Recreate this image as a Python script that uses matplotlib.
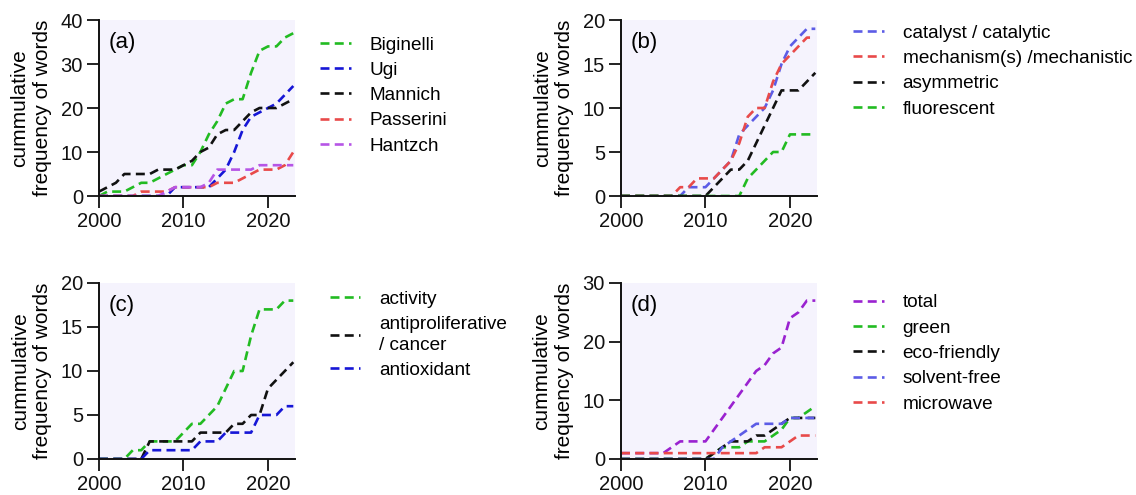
import numpy as np
import matplotlib
matplotlib.use('Agg')
import matplotlib.pyplot as plt

plt.rcParams['font.family'] = ['Liberation Sans', 'DejaVu Sans']

years = list(range(2000, 2024))

# (a) name reactions
biginelli = [0, 1, 1, 1, 2, 3, 3, 4, 5, 6, 7, 7, 10, 14, 17, 21, 22, 22, 28, 33, 34, 34, 36, 37]
ugi = [0, 0, 0, 0, 0, 0, 0, 0, 0, 2, 2, 2, 2, 2, 4, 6, 10, 15, 18, 19, 20, 21, 23, 25]
mannich = [1, 2, 3, 5, 5, 5, 5, 6, 6, 6, 7, 8, 10, 11, 14, 15, 15, 17, 19, 20, 20, 20, 21, 22]
passerini = [0, 0, 0, 0, 0, 1, 1, 1, 1, 2, 2, 2, 2, 2, 3, 3, 3, 4, 5, 6, 6, 6, 7, 10]
hantzch = [0, 0, 0, 0, 0, 0, 0, 0, 1, 2, 2, 2, 2, 3, 6, 6, 6, 6, 6, 7, 7, 7, 7, 7]

# (b)
catalyst = [0, 0, 0, 0, 0, 0, 0, 0, 1, 1, 1, 2, 3, 4, 7, 8, 9, 10, 12, 15, 17, 18, 19, 19]
mechanism = [0, 0, 0, 0, 0, 0, 0, 1, 1, 2, 2, 2, 3, 4, 6, 9, 10, 10, 13, 15, 16, 17, 18, 18]
asymmetric = [0, 0, 0, 0, 0, 0, 0, 0, 0, 0, 0, 1, 2, 3, 3, 4, 6, 8, 10, 12, 12, 12, 13, 14]
fluorescent = [0, 0, 0, 0, 0, 0, 0, 0, 0, 0, 0, 0, 0, 0, 0, 2, 3, 4, 5, 5, 7, 7, 7, 7]

# (c)
activity = [0, 0, 0, 0, 1, 1, 2, 2, 2, 2, 3, 4, 4, 5, 6, 8, 10, 10, 14, 17, 17, 17, 18, 18]
antiprolif = [0, 0, 0, 0, 0, 0, 2, 2, 2, 2, 2, 2, 3, 3, 3, 3, 4, 4, 5, 5, 8, 9, 10, 11]
antioxidant = [0, 0, 0, 0, 0, 0, 1, 1, 1, 1, 1, 1, 2, 2, 2, 3, 3, 3, 3, 5, 5, 5, 6, 6]

# (d)
total = [1, 1, 1, 1, 1, 1, 2, 3, 3, 3, 3, 5, 7, 9, 11, 13, 15, 16, 18, 19, 24, 25, 27, 27]
green = [0, 0, 0, 0, 0, 0, 0, 0, 0, 0, 0, 1, 2, 2, 2, 3, 3, 3, 4, 5, 7, 7, 8, 9]
eco = [0, 0, 0, 0, 0, 0, 0, 0, 0, 0, 0, 1, 2, 3, 3, 3, 4, 4, 5, 6, 7, 7, 7, 7]
solvent_free = [0, 0, 0, 0, 0, 0, 0, 0, 0, 0, 0, 0, 2, 3, 4, 5, 6, 6, 6, 6, 7, 7, 7, 7]
microwave = [1, 1, 1, 1, 1, 1, 1, 1, 1, 1, 1, 1, 1, 1, 1, 1, 1, 2, 2, 2, 3, 4, 4, 4]

GREEN = '#22bb22'
BLUE = '#1616d6'
LBLUE = '#5c5ce6'
RED = '#e84a4a'
PURPLE = '#b655e6'
DPURPLE = '#9a22d0'
BLACK = '#111111'

panels = [
    dict(rect=[99, 20], label='(a)', ylim=40, yticks=[0, 10, 20, 30, 40],
         series=[(biginelli, GREEN, 'Biginelli'), (ugi, BLUE, 'Ugi'),
                 (mannich, BLACK, 'Mannich'), (passerini, RED, 'Passerini'),
                 (hantzch, PURPLE, 'Hantzch')],
         leg=(1.128, 0.908)),
    dict(rect=[621, 20], label='(b)', ylim=20, yticks=[0, 5, 10, 15, 20],
         series=[(catalyst, LBLUE, 'catalyst / catalytic'),
                 (mechanism, RED, 'mechanism(s) /mechanistic'),
                 (asymmetric, BLACK, 'asymmetric'), (fluorescent, GREEN, 'fluorescent')],
         leg=(1.185, 0.975)),
    dict(rect=[99, 283], label='(c)', ylim=20, yticks=[0, 5, 10, 15, 20],
         series=[(activity, GREEN, 'activity'),
                 (antiprolif, BLACK, 'antiproliferative\n/ cancer'),
                 (antioxidant, BLUE, 'antioxidant')],
         leg=(1.178, 0.957)),
    dict(rect=[621, 283], label='(d)', ylim=30, yticks=[0, 10, 20, 30],
         series=[(total, DPURPLE, 'total'), (green, GREEN, 'green'),
                 (eco, BLACK, 'eco-friendly'), (solvent_free, LBLUE, 'solvent-free'),
                 (microwave, RED, 'microwave')],
         leg=(1.185, 0.937)),
]

W, H = 1136, 495
fig = plt.figure(figsize=(W / 100, H / 100), dpi=100)

for p in panels:
    x0, y0 = p['rect']
    ax = fig.add_axes([x0 / W, 1 - (y0 + 176) / H, 196 / W, 176 / H])
    ax.set_facecolor('#f5f3fd')
    for vals, col, lab in p['series']:
        ax.plot(years, vals, color=col, lw=1.9, dashes=(3.4, 2.0), label=lab)
    ax.set_xlim(2000, 2023.2)
    ax.set_ylim(0, p['ylim'])
    ax.set_xticks([2000, 2010, 2020])
    ax.set_yticks(p['yticks'])
    for s in ['top', 'right']:
        ax.spines[s].set_visible(False)
    for s in ['left', 'bottom']:
        ax.spines[s].set_linewidth(1.4)
        ax.spines[s].set_color('#111111')
    ax.tick_params(length=8.5, width=1.3, labelsize=14.5, pad=3, colors='#111111')
    ax.set_ylabel('cummulative\nfrequency of words', fontsize=15, labelpad=6,
                  linespacing=1.25)
    ax.text(0.05, 0.93, p['label'], transform=ax.transAxes, fontsize=16,
            va='top', ha='left')
    leg = ax.legend(loc='upper left', bbox_to_anchor=p['leg'], frameon=False,
                    fontsize=13.7, handlelength=1.6, handletextpad=1.0,
                    labelspacing=0.42, borderpad=0, borderaxespad=0)
    for t in leg.get_texts():
        t.set_linespacing(1.3)

fig.savefig('out.png', dpi=100)
